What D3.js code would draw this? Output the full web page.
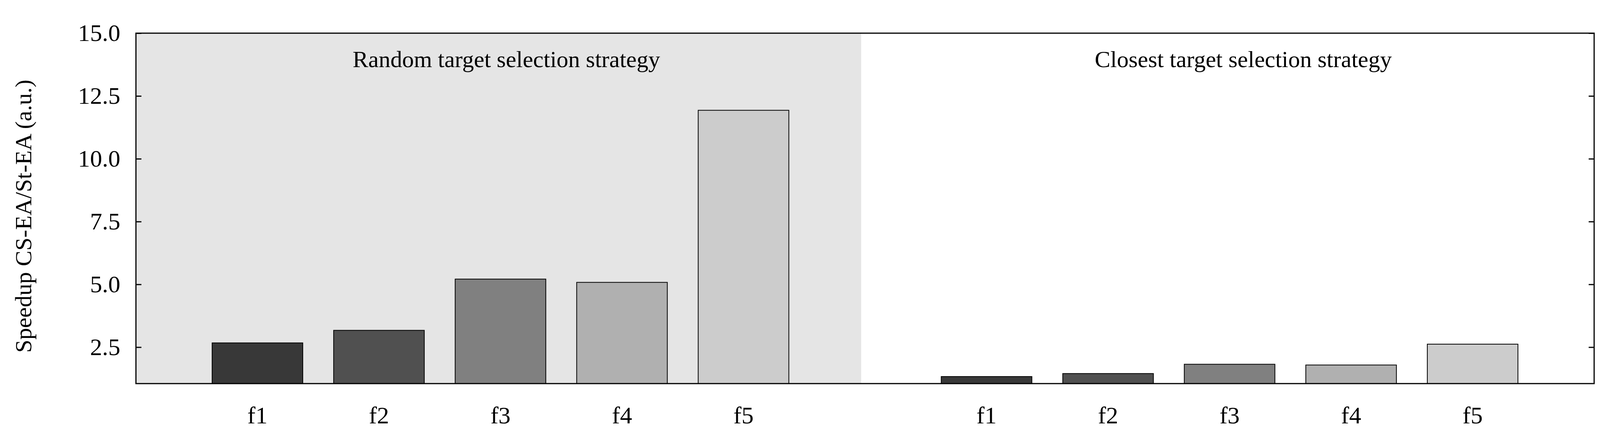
<!DOCTYPE html>
<html lang="en">
<head>
<meta charset="UTF-8" />
<title>speedup</title>
<style>body{margin:0;background:#fff}text{font-family:"Liberation Serif",serif}</style>
</head>
<body>
<svg width="4200" height="1125"></svg>
<script src="https://cdn.jsdelivr.net/npm/d3@7/dist/d3.min.js"></script>
<script>
const categories = ["f1", "f2", "f3", "f4", "f5"];
const randomValues = [2.67, 3.17, 5.21, 5.08, 11.93];
const closestValues = [1.33, 1.45, 1.82, 1.79, 2.62];
const panelTitles = ["Random target selection strategy", "Closest target selection strategy"];
const yTicks = [2.5, 5.0, 7.5, 10.0, 12.5, 15.0];
const colors = ["#383838", "#505050", "#808080", "#b0b0b0", "#cccccc"];

const svg = d3.select("svg");
const plotL = 348, plotR = 4081, plotT = 85, plotB = 983;
const panelW = (plotR - plotL) / 2;

const y = d3.scaleLinear().domain([1.05, 15]).range([plotB, plotT]);
const x = d3.scalePoint().domain(categories).range([panelW / 6, panelW * 5 / 6]);
const barW = 232;

// shaded left panel
svg.append("rect").attr("x", plotL).attr("y", plotT)
  .attr("width", panelW - 10).attr("height", plotB - plotT).attr("fill", "#e5e5e5");

[randomValues, closestValues].forEach((vals, p) => {
  const g = svg.append("g").attr("transform", `translate(${plotL + p * panelW},0)`);
  g.selectAll("rect").data(vals).enter().append("rect")
    .attr("x", (d, i) => x(categories[i]) - barW / 2)
    .attr("y", d => y(d))
    .attr("width", barW)
    .attr("height", d => plotB - y(d))
    .attr("fill", (d, i) => colors[i])
    .attr("stroke", "#000").attr("stroke-width", 2);
  g.selectAll(".xl").data(categories).enter().append("text")
    .attr("x", d => x(d)).attr("y", 1085)
    .attr("text-anchor", "middle").attr("font-size", 62).text(d => d);
  g.append("text").attr("x", panelW / 2 + (p ? 35 : 15)).attr("y", 172)
    .attr("text-anchor", "middle").attr("font-size", 60).text(panelTitles[p]);
});

// frame
svg.append("rect").attr("x", plotL).attr("y", plotT)
  .attr("width", plotR - plotL).attr("height", plotB - plotT)
  .attr("fill", "none").attr("stroke", "#000").attr("stroke-width", 3);

// y axis with ticks on both sides
const yAxis = d3.axisLeft(y).tickValues(yTicks).tickSize(-14).tickPadding(40)
  .tickFormat(d3.format(".1f"));
const ga = svg.append("g").attr("transform", `translate(${plotL},0)`).call(yAxis);
ga.select(".domain").remove();
ga.selectAll("text").attr("font-size", 62).attr("font-family", "Liberation Serif").attr("fill", "#000");
ga.selectAll("line").attr("stroke-width", 3);
const gr = svg.append("g").attr("transform", `translate(${plotR},0)`)
  .call(d3.axisRight(y).tickValues(yTicks).tickSize(-14).tickFormat(""));
gr.select(".domain").remove();
gr.selectAll("line").attr("stroke-width", 3);

svg.append("text")
  .attr("transform", `translate(80,${(plotT + plotB) / 2 + 20}) rotate(-90)`)
  .attr("text-anchor", "middle").attr("font-size", 60)
  .text("Speedup CS-EA/St-EA (a.u.)");
</script>
</body>
</html>
